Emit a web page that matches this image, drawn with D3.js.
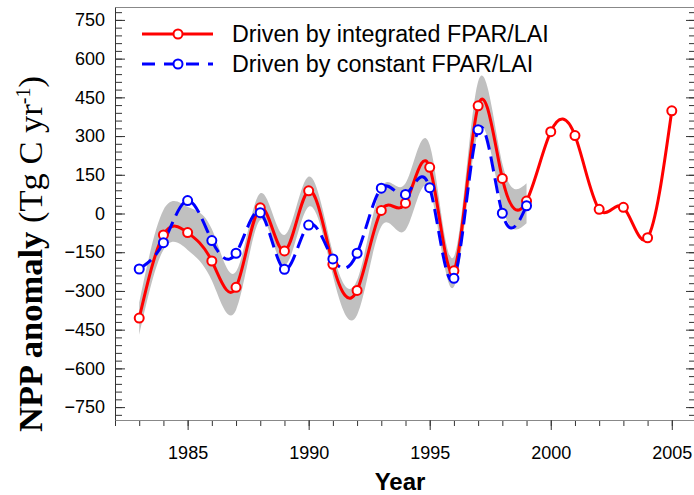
<!DOCTYPE html>
<html><head><meta charset="utf-8">
<script src="https://cdn.jsdelivr.net/npm/d3@7"></script>
<style>body{margin:0;background:#fff}svg{display:block}</style>
</head><body>
<svg id="c" width="694" height="495"></svg>
<script>
const yearsInt = [1983,1984,1985,1986,1987,1988,1989,1990,1991,1992,1993,1994,1995,1996,1997,1998,1999,2000,2001,2002,2003,2004,2005];
const nppInt = [-405,-83,-74,-184,-286,22,-145,88,-197,-298,12,40,179,-222,417,136,48,317,302,16,24,-94,398];
const yearsConst = [1983,1984,1985,1986,1987,1988,1989,1990,1991,1992,1993,1994,1995,1996,1997,1998,1999];
const nppConst = [-215,-113,50,-105,-154,3,-216,-45,-176,-154,98,74,100,-251,324,1,30];
const bandYears = yearsConst;
const bandUpper = [-345,14,26,-60,-225,78,-83,143,-150,-258,100,117,265,-167,511,194,117];
const bandLower = [-470,-141,-141,-260,-374,-25,-200,26,-240,-393,-50,-64,91,-284,317,26,-38];
const yTicks = [-750,-600,-450,-300,-150,0,150,300,450,600,750];
const xTicks = [1985,1990,1995,2000,2005];
const legendLabels = ["Driven by integrated FPAR/LAI","Driven by constant FPAR/LAI"];

const svg = d3.select("#c");
const x = d3.scaleLinear().domain([1982,2006]).range([115,696]);
const y = d3.scaleLinear().domain([-800,800]).range([420,7]);

// band
const band = bandYears.map((yr,i)=>({yr, hi:bandUpper[i], lo:bandLower[i]}));
svg.append("path").datum(band)
  .attr("fill","#c0c0c0")
  .attr("d", d3.area().curve(d3.curveNatural).x(d=>x(d.yr)).y0(d=>y(d.lo)).y1(d=>y(d.hi)));

// axes
const axisColor = "#333";
const fontSans = "'Liberation Sans', Arial, sans-serif";
function styleAxis(g){ g.selectAll("line").attr("stroke",axisColor); g.selectAll("path").attr("stroke",axisColor); g.selectAll("text").attr("fill","#000").style("font-family",fontSans).style("font-size","18px"); }

const minorY = d3.range(-780, 781, 30);
svg.append("g").attr("transform","translate(115,0)")
  .call(d3.axisLeft(y).tickValues(minorY).tickSize(-7).tickSizeOuter(0).tickFormat(""))
  .call(styleAxis);
svg.append("g").attr("transform","translate(115,0)")
  .call(d3.axisLeft(y).tickValues(yTicks).tickSize(-10).tickSizeOuter(0).tickPadding(10).tickFormat(d3.format("d")))
  .call(styleAxis);
// right ticks
svg.append("g").attr("transform","translate(696,0)")
  .call(d3.axisRight(y).tickValues(minorY).tickSize(-7).tickSizeOuter(0).tickFormat(""))
  .call(styleAxis);
svg.append("g").attr("transform","translate(696,0)")
  .call(d3.axisRight(y).tickValues(yTicks).tickSize(-10).tickSizeOuter(0).tickFormat(""))
  .call(styleAxis);
// bottom
svg.append("g").attr("transform","translate(0,420)")
  .call(d3.axisBottom(x).tickValues(d3.range(1982,2007,1)).tickSize(6).tickSizeOuter(0).tickFormat(""))
  .call(styleAxis).select("path").attr("stroke","#888");
svg.append("g").attr("transform","translate(0,420)")
  .call(d3.axisBottom(x).tickValues(xTicks).tickSize(10).tickSizeOuter(0).tickPadding(16).tickFormat(d3.format("d")))
  .call(styleAxis).select("path").attr("stroke","#888");
// top line
svg.append("g").attr("transform","translate(0,7)")
  .call(d3.axisTop(x).tickValues([]).tickSizeOuter(0))
  .select("path").attr("stroke","#888");

// lines
const lineGen = d3.line().curve(d3.curveNatural).x(d=>x(d[0])).y(d=>y(d[1]));
const redData = yearsInt.map((yr,i)=>[yr,nppInt[i]]);
const blueData = yearsConst.map((yr,i)=>[yr,nppConst[i]]);
svg.append("path").datum(redData).attr("fill","none").attr("stroke","#ff0000").attr("stroke-width",3).attr("d",lineGen);
svg.append("path").datum(blueData).attr("fill","none").attr("stroke","#0000ff").attr("stroke-width",3).attr("stroke-dasharray","15,7").attr("d",lineGen);
svg.append("g").selectAll("circle").data(redData).join("circle")
  .attr("cx",d=>x(d[0])).attr("cy",d=>y(d[1])).attr("r",4.5)
  .attr("fill","#fff").attr("stroke","#ff0000").attr("stroke-width",2);
svg.append("g").selectAll("circle").data(blueData).join("circle")
  .attr("cx",d=>x(d[0])).attr("cy",d=>y(d[1])).attr("r",4.5)
  .attr("fill","#fff").attr("stroke","#0000ff").attr("stroke-width",2);

// legend
const leg = svg.append("g");
const legColors = ["#ff0000","#0000ff"];
const legY = [34,64];
legendLabels.forEach((t,i)=>{
  leg.append("line").attr("x1",142).attr("x2",213).attr("y1",legY[i]).attr("y2",legY[i])
    .attr("stroke",legColors[i]).attr("stroke-width",3)
    .attr("stroke-dasharray", i===1 ? "13,9" : null);
  leg.append("circle").attr("cx",178).attr("cy",legY[i]).attr("r",4.5)
    .attr("fill","#fff").attr("stroke",legColors[i]).attr("stroke-width",2);
  leg.append("text").attr("x",232).attr("y",legY[i]+8).text(t)
    .style("font-family",fontSans).style("font-size","23.3px").attr("fill","#000");
});

// axis titles
svg.append("text").attr("x",400).attr("y",490).attr("text-anchor","middle")
  .style("font-family",fontSans).style("font-size","24px").style("font-weight","bold").text("Year");

const yt = svg.append("text").attr("transform","translate(42,254) rotate(-90)").attr("text-anchor","middle")
  .style("font-family","'Liberation Serif','Times New Roman',serif").style("font-size","34.5px");
yt.append("tspan").style("font-weight","bold").text("NPP anomaly ");
yt.append("tspan").text("(Tg C yr");
yt.append("tspan").attr("dy",-12).style("font-size","20px").text("-1");
yt.append("tspan").attr("dy",12).text(")");
</script>
</body></html>
